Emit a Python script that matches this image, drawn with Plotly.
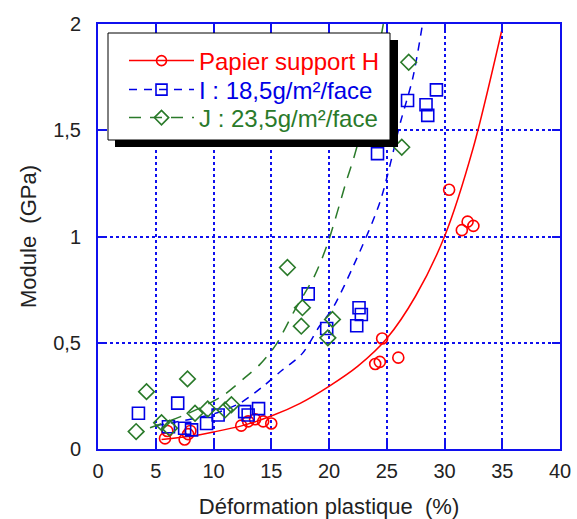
import plotly.graph_objects as go

# ---- data ----
H_x = [5.8, 6.0, 7.5, 7.8, 8.0, 12.4, 13.0, 13.6, 14.3, 15.0, 24.0, 24.4, 24.6, 26.0, 30.4, 31.5, 32.0, 32.5]
H_y = [0.05, 0.085, 0.045, 0.07, 0.085, 0.11, 0.13, 0.14, 0.13, 0.12, 0.40, 0.41, 0.52, 0.43, 1.22, 1.03, 1.07, 1.05]

I_x = [3.5, 6.1, 6.9, 7.5, 8.1, 9.4, 10.4, 12.7, 13.0, 13.9, 18.2, 19.8, 22.4, 22.6, 22.8, 24.2, 26.8, 28.4, 28.55, 29.3]
I_y = [0.168, 0.105, 0.216, 0.098, 0.09, 0.12, 0.16, 0.176, 0.16, 0.19, 0.73, 0.567, 0.58, 0.665, 0.633, 1.39, 1.64, 1.62, 1.57, 1.69]

J_x = [3.3, 4.2, 5.5, 6.2, 7.75, 8.4, 9.5, 11.0, 11.55, 16.4, 17.7, 17.6, 19.9, 20.3, 26.3, 26.9]
J_y = [0.082, 0.27, 0.124, 0.098, 0.33, 0.168, 0.188, 0.184, 0.208, 0.854, 0.665, 0.578, 0.523, 0.61, 1.42, 1.82]

# fitted curves
H_fit_x = [5.5, 8, 10, 12.5, 15, 17.5, 20, 22.5, 25, 27.5, 30, 32.5, 35]
H_fit_y = [0.045, 0.06, 0.08, 0.11, 0.155, 0.215, 0.295, 0.39, 0.52, 0.72, 1.0, 1.42, 1.98]

I_fit_x = [5, 8, 10, 12.3, 14.3, 15.7, 17.7, 19.2, 20.3, 22.1, 24.4, 26.2, 27.25, 28.1]
I_fit_y = [0.11, 0.14, 0.165, 0.216, 0.295, 0.36, 0.45, 0.58, 0.66, 0.86, 1.16, 1.54, 1.745, 2.0]

J_fit_x = [4.5, 7.5, 10.7, 12.85, 14.0, 15.4, 17.0, 18.75, 19.9, 21.5, 22.2, 23.5, 24.7]
J_fit_y = [0.10, 0.16, 0.247, 0.342, 0.397, 0.49, 0.65, 0.815, 0.97, 1.26, 1.38, 1.65, 2.0]

names = ["Papier support H", "I : 18,5g/m²/face", "J : 23,5g/m²/face"]
x_ticks = [0, 5, 10, 15, 20, 25, 30, 35, 40]
y_ticks = [0, 0.5, 1, 1.5, 2]
y_ticklabels = ["0", "0,5", "1", "1,5", "2"]

RED = "#ff0000"
BLUE = "#0000e6"
GREEN = "#2a7a2a"
AXC = "#1010ee"
FONT = "Liberation Sans"

fig = go.Figure()

series = [
    (H_x, H_y, H_fit_x, H_fit_y, RED, "circle-open", 11, "solid"),
    (I_x, I_y, I_fit_x, I_fit_y, BLUE, "square-open", 12, "8px,7px"),
    (J_x, J_y, J_fit_x, J_fit_y, GREEN, "diamond-open", 12, "12px,9px"),
]

for k, (px, py, fx, fy, col, sym, sz, dash) in enumerate(series):
    fig.add_trace(go.Scatter(x=fx, y=fy, mode="lines", line=dict(color=col, width=1.5, dash=dash, shape="spline", smoothing=0.8),
                             showlegend=False, hoverinfo="skip"))
    fig.add_trace(go.Scatter(x=px, y=py, mode="markers",
                             marker=dict(symbol=sym, size=sz, color=col, line=dict(color=col, width=1.6)),
                             showlegend=False))

def px2x(p):
    return (p - 98) / 462.0

def py2y(p):
    return (449 - p) / 425.0

legend_ids = ["legend", "legend2", "legend3"]
row_centers = [61, 90, 118]

# legend entries (line + marker), one small legend per row
for k, (px, py, fx, fy, col, sym, sz, dash) in enumerate(series):
    fig.add_trace(go.Scatter(x=[None], y=[None], mode="lines+markers",
                             name=f"<span style='color:{col}'>{names[k]}</span>",
                             legend=legend_ids[k],
                             line=dict(color=col, width=1.5, dash=dash),
                             marker=dict(symbol=sym, size=sz - 1, color=col, line=dict(color=col, width=1.6))))

shapes = [
    dict(type="rect", xref="paper", yref="paper", x0=px2x(115), x1=px2x(398), y0=py2y(147), y1=py2y(40),
         fillcolor="black", line=dict(width=0), layer="above"),
    dict(type="rect", xref="paper", yref="paper", x0=px2x(108), x1=px2x(390), y0=py2y(140), y1=py2y(33),
         fillcolor="white", line=dict(color="black", width=1), layer="above"),
]

legend_common = dict(xanchor="left", yanchor="middle", bgcolor="rgba(0,0,0,0)", borderwidth=0,
                     font=dict(size=24, family=FONT), itemwidth=65)

fig.update_layout(
    width=577, height=519,
    margin=dict(l=98, r=17, t=24, b=70),
    paper_bgcolor="white", plot_bgcolor="white",
    font=dict(family=FONT, size=20, color="#222"),
    shapes=shapes,
    legend=dict(x=px2x(124), y=py2y(row_centers[0]), **legend_common),
    legend2=dict(x=px2x(124), y=py2y(row_centers[1]), **legend_common),
    legend3=dict(x=px2x(124), y=py2y(row_centers[2]), **legend_common),
    xaxis=dict(range=[0, 40], tickvals=x_ticks, showline=True, linecolor=AXC, linewidth=2, mirror="ticks",
               ticks="inside", ticklen=8, tickwidth=2, tickcolor=AXC, showgrid=True, gridcolor=AXC,
               griddash="dot", gridwidth=1.5, zeroline=False, automargin=False, ticklabelstandoff=3,
               title=dict(text="Déformation plastique  (%)", standoff=18, font=dict(size=22)),
               tickfont=dict(size=20)),
    yaxis=dict(range=[0, 2], tickvals=y_ticks, ticktext=y_ticklabels, showline=True, linecolor=AXC, linewidth=2,
               mirror="ticks", ticks="inside", ticklen=8, tickwidth=2, tickcolor=AXC, showgrid=True,
               gridcolor=AXC, griddash="dot", gridwidth=1.5, zeroline=False, automargin=False,
               ticklabelstandoff=11,
               title=dict(text="Module  (GPa)", standoff=10, font=dict(size=22)), tickfont=dict(size=20)),
)

fig.write_html("out.html", config={"displayModeBar": False},
               post_script="document.body.style.margin='0';")
